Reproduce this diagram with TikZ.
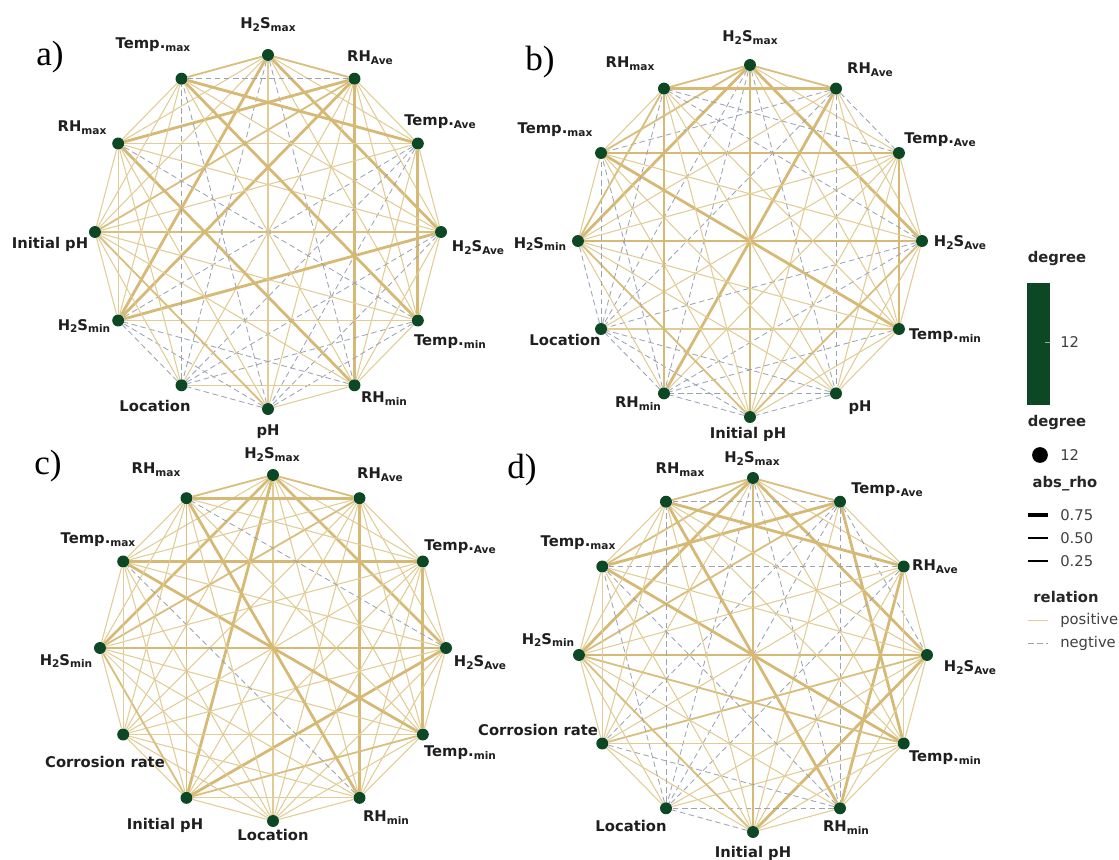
\documentclass[tikz,border=0pt]{standalone}
\usepackage{fontspec}
\setmainfont{DejaVu Sans}
\newfontfamily\panelfont{Liberation Serif}
\usetikzlibrary{backgrounds}

\definecolor{tanline}{RGB}{225,204,150}
\definecolor{tandark}{RGB}{214,185,116}
\definecolor{negline}{RGB}{155,162,180}
\definecolor{dotgreen}{RGB}{12,72,36}
\newcommand{\lo}[1]{\raisebox{-0.35ex}{\fontsize{7.5}{8}\selectfont #1}}

\tikzset{
  vdot/.style={circle, fill=dotgreen, inner sep=0pt, minimum size=8.5pt},
  lbl/.style={font=\bfseries\fontsize{10.5}{12}\selectfont, text=black!88, inner sep=0pt},
  panellbl/.style={font=\panelfont\fontsize{25}{28}\selectfont, inner sep=0pt},
  legtitle/.style={font=\bfseries\fontsize{10.5}{12}\selectfont, text=black!85, inner sep=0pt},
  legtxt/.style={font=\fontsize{10.5}{12}\selectfont, text=black!75, inner sep=0pt, anchor=west},
  poslink/.style={draw=tanline, line width=0.75pt},
  midlink/.style={draw=tandark!70!tanline, line width=1.3pt},
  biglink/.style={draw=tandark, line width=2pt},
  neglink/.style={draw=negline, line width=0.6pt, dash pattern=on 4pt off 2.5pt},
}
% panel a
\tikzset{
  a0-8/.style=biglink, a1-10/.style=biglink, a2-11/.style=biglink, a1-5/.style=biglink,
  a2-4/.style=biglink, a3-8/.style=biglink, a5-10/.style=biglink, a4-11/.style=biglink,
  a0-3/.style=biglink, a1-8/.style=biglink,
  a6-9/.style=midlink, a3-9/.style=midlink, a0-11/.style=midlink, a1-9/.style=midlink, a0-1/.style=midlink,
  a1-11/.style=neglink, a7-11/.style=neglink, a6-11/.style=neglink, a0-7/.style=neglink,
  a0-5/.style=neglink, a4-10/.style=neglink, a2-7/.style=neglink, a2-6/.style=neglink,
  a3-7/.style=neglink, a3-6/.style=neglink, a6-7/.style=neglink, a4-7/.style=neglink,
  a6-8/.style=neglink, a4-6/.style=neglink, a5-8/.style=neglink, a7-8/.style=neglink,
  a2-8/.style=neglink,
}
% panel b
\tikzset{
  b1-11/.style=biglink, b2-10/.style=biglink, b3-9/.style=biglink, b0-6/.style=biglink,
  b7-11/.style=biglink, b2-4/.style=biglink, b0-9/.style=biglink, b0-3/.style=biglink,
  b4-10/.style=biglink, b1-7/.style=biglink,
  b6-9/.style=midlink, b3-6/.style=midlink, b0-10/.style=midlink, b9-11/.style=midlink,
  b0-11/.style=midlink, b0-1/.style=midlink,
  b8-10/.style=neglink, b8-11/.style=neglink, b8-9/.style=neglink, b7-8/.style=neglink,
  b6-8/.style=neglink, b5-8/.style=neglink, b3-8/.style=neglink, b0-8/.style=neglink,
  b1-8/.style=neglink, b1-5/.style=neglink, b5-7/.style=neglink, b5-6/.style=neglink,
  b0-5/.style=neglink, b6-7/.style=neglink, b3-7/.style=neglink, b4-7/.style=neglink,
  b1-10/.style=neglink, b2-11/.style=neglink, b1-2/.style=neglink, b0-7/.style=neglink,
  b7-10/.style=neglink, b3-11/.style=neglink,
}
% panel c
\tikzset{
  c1-11/.style=biglink, c2-10/.style=biglink, c3-9/.style=biglink, c1-5/.style=biglink,
  c2-4/.style=biglink, c0-9/.style=biglink, c0-7/.style=biglink, c4-10/.style=biglink,
  c5-11/.style=biglink, c3-7/.style=biglink, c0-3/.style=biglink,
  c7-11/.style=midlink, c7-9/.style=midlink, c4-7/.style=midlink, c1-9/.style=midlink,
  c0-11/.style=midlink, c0-1/.style=midlink,
  c5-10/.style=neglink, c3-11/.style=neglink,
}
% panel d
\tikzset{
  d3-9/.style=biglink, d0-6/.style=biglink, d1-10/.style=biglink, d2-11/.style=biglink,
  d4-10/.style=biglink, d5-11/.style=biglink, d0-9/.style=biglink, d0-3/.style=biglink,
  d1-4/.style=biglink, d2-5/.style=biglink, d3-6/.style=biglink,
  d6-9/.style=midlink, d0-10/.style=midlink, d0-11/.style=midlink, d0-1/.style=midlink,
  d1-9/.style=midlink, d3-8/.style=midlink, d4-9/.style=midlink,
  d2-10/.style=neglink, d1-11/.style=neglink, d7-11/.style=neglink, d1-5/.style=neglink,
  d5-7/.style=neglink, d6-7/.style=neglink, d7-10/.style=neglink, d0-7/.style=neglink,
  d0-5/.style=neglink, d1-7/.style=neglink, d1-8/.style=neglink, d2-7/.style=neglink,
  d5-10/.style=neglink, d5-8/.style=neglink, d1-3/.style=neglink,
}

\begin{document}
\begin{tikzpicture}[x=0.025cm, y=-0.025cm]
\useasboundingbox (0,0) rectangle (1119,860);

% dots on the four circles
\foreach \p/\cx/\cy/\rx/\ry in {a/268/232/173/177, b/750/241/172/176, c/273/648/173/173, d/753/655/174/177}{
  \foreach \n in {0,...,11}
    \node[vdot] (\p\n) at ({\cx+\rx*cos(90-30*\n)},{\cy-\ry*sin(90-30*\n)}) {};
}

% all pairs
\begin{pgfonlayer}{background}
\foreach \p in {a,b,c,d}{
  \foreach \i in {0,...,10}{
    \pgfmathtruncatemacro\k{\i+1}
    \foreach \j in {\k,...,11}{
      \edef\e{\noexpand\draw[poslink,\p\i-\j/.try] (\p\i) -- (\p\j);}\e
    }
  }
}
\end{pgfonlayer}

% a)
\node[panellbl] (pa) at (50,57) {a)};
\node[lbl] (la0) at (268,25) {H\lo{2}S\lo{max}};
\node[lbl] (la1) at (370,58) {RH\lo{Ave}};
\node[lbl] (la2) at (440,122) {Temp.\lo{Ave}};
\node[lbl] (la3) at (478,248) {H\lo{2}S\lo{Ave}};
\node[lbl] (la4) at (450,342) {Temp.\lo{min}};
\node[lbl] (la5) at (384,399) {RH\lo{min}};
\node[lbl] (la6) at (268,432) {pH};
\node[lbl] (la7) at (155,406) {Location};
\node[lbl] (la8) at (84,326) {H\lo{2}S\lo{min}};
\node[lbl] (la9) at (50,244) {Initial pH};
\node[lbl] (la10) at (82,128) {RH\lo{max}};
\node[lbl] (la11) at (153,45) {Temp.\lo{max}};

% b)
\node[panellbl] (pb) at (540,62) {b)};
\node[lbl] (lb0) at (750,38) {H\lo{2}S\lo{max}};
\node[lbl] (lb1) at (870,70) {RH\lo{Ave}};
\node[lbl] (lb2) at (940,140) {Temp.\lo{Ave}};
\node[lbl] (lb3) at (960,243) {H\lo{2}S\lo{Ave}};
\node[lbl] (lb4) at (945,336) {Temp.\lo{min}};
\node[lbl] (lb5) at (860,408) {pH};
\node[lbl] (lb6) at (748,434) {Initial pH};
\node[lbl] (lb7) at (638,404) {RH\lo{min}};
\node[lbl] (lb8) at (565,340) {Location};
\node[lbl] (lb9) at (540,244) {H\lo{2}S\lo{min}};
\node[lbl] (lb10) at (555,130) {Temp.\lo{max}};
\node[lbl] (lb11) at (630,64) {RH\lo{max}};

% c)
\node[panellbl] (pc) at (48,466) {c)};
\node[lbl] (lc0) at (272,455) {H\lo{2}S\lo{max}};
\node[lbl] (lc1) at (380,475) {RH\lo{Ave}};
\node[lbl] (lc2) at (460,547) {Temp.\lo{Ave}};
\node[lbl] (lc3) at (480,663) {H\lo{2}S\lo{Ave}};
\node[lbl] (lc4) at (460,753) {Temp.\lo{min}};
\node[lbl] (lc5) at (386,818) {RH\lo{min}};
\node[lbl] (lc6) at (273,835) {Location};
\node[lbl] (lc7) at (165,825) {Initial pH};
\node[lbl] (lc8) at (105,762) {Corrosion rate};
\node[lbl] (lc9) at (66,661) {H\lo{2}S\lo{min}};
\node[lbl] (lc10) at (98,540) {Temp.\lo{max}};
\node[lbl] (lc11) at (156,470) {RH\lo{max}};

% d)
\node[panellbl] (pd) at (522,470) {d)};
\node[lbl] (ld0) at (752,459) {H\lo{2}S\lo{max}};
\node[lbl] (ld1) at (887,490) {Temp.\lo{Ave}};
\node[lbl] (ld2) at (935,567) {RH\lo{Ave}};
\node[lbl] (ld3) at (970,668) {H\lo{2}S\lo{Ave}};
\node[lbl] (ld4) at (945,758) {Temp.\lo{min}};
\node[lbl] (ld5) at (846,828) {RH\lo{min}};
\node[lbl] (ld6) at (753,853) {Initial pH};
\node[lbl] (ld7) at (631,826) {Location};
\node[lbl] (ld8) at (538,730) {Corrosion rate};
\node[lbl] (ld9) at (548,640) {H\lo{2}S\lo{min}};
\node[lbl] (ld10) at (578,543) {Temp.\lo{max}};
\node[lbl] (ld11) at (680,470) {RH\lo{max}};

% legend
\node[legtitle] (g1) at (1057,258) {degree};
\fill[dotgreen] (1027,283) rectangle (1050,405);
\draw[white!55!dotgreen, line width=0.5pt] (1045,342) -- (1050,342);
\node[legtxt] (g1v) at (1060,342) {12};
\node[legtitle] (g2) at (1057,422) {degree};
\fill[black] (1040,455) circle (5.6pt);
\node[legtxt] (g2v) at (1060,455) {12};
\node[legtitle] (g3) at (1065,484) {abs\_rho};
\draw[line width=2.2pt] (1028,515) -- (1048,515);
\node[legtxt] (r1) at (1060,515) {0.75};
\draw[line width=1.7pt] (1028,538) -- (1048,538);
\node[legtxt] (r2) at (1060,538) {0.50};
\draw[line width=0.9pt] (1028,561) -- (1048,561);
\node[legtxt] (r3) at (1060,561) {0.25};
\node[legtitle] (g4) at (1066,597) {relation};
\draw[tanline, line width=0.6pt] (1028,620) -- (1048,620);
\node[legtxt] (s1) at (1060,620) {positive};
\draw[neglink] (1028,643) -- (1048,643);
\node[legtxt] (s2) at (1060,643) {negtive};
\end{tikzpicture}
\end{document}
